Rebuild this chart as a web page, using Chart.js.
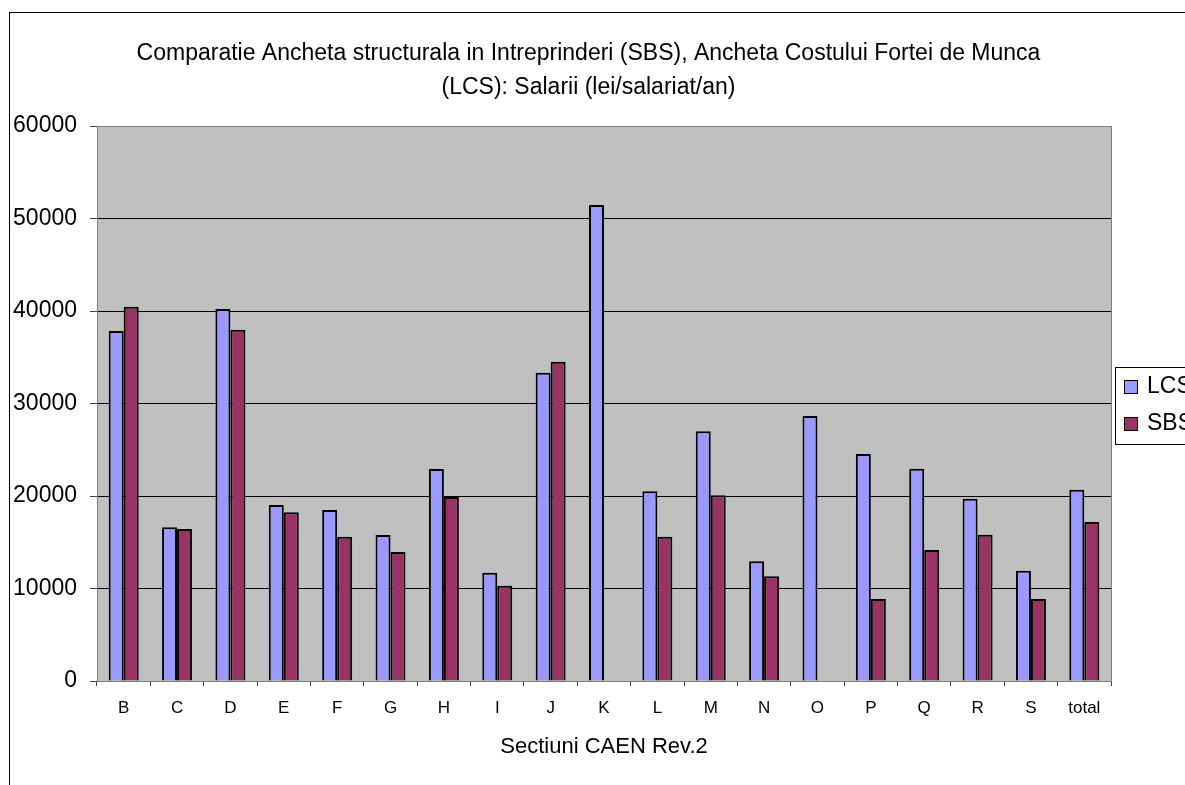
<!DOCTYPE html>
<html>
<head>
<meta charset="utf-8">
<script src="https://cdn.jsdelivr.net/npm/chart.js@4/dist/chart.umd.min.js"></script>
<style>
  html, body { margin: 0; padding: 0; background: #fff; overflow: hidden; }
  canvas { display: block; }
</style>
</head>
<body>
<canvas id="salChart" width="1185" height="785"></canvas>
<script>
// Data
const categories = ['B', 'C', 'D', 'E', 'F', 'G', 'H', 'I', 'J', 'K', 'L', 'M', 'N', 'O', 'P', 'Q', 'R', 'S', 'total'];
const lcsValues = [37840, 16620, 40220, 19030, 18490, 15780, 22920, 11710, 33330, 51460, 20510, 26990, 12940, 28650, 24540, 22950, 19710, 11930, 20680];
const sbsValues = [40470, 16430, 37980, 18240, 15600, 13950, 19890, 10300, 34520, null, 15600, 20080, 11320, null, 8860, 14160, 15820, 8860, 17190];
const titleLines = ['Comparatie Ancheta structurala in Intreprinderi (SBS), Ancheta Costului Fortei de Munca', '(LCS): Salarii (lei/salariat/an)'];
const xTitle = 'Sectiuni CAEN Rev.2';
const yMax = 60000;
const yStep = 10000;

const FONT = '"Liberation Sans", Arial, sans-serif';

// plot background, outer frame, plot border and legend box
const frame = {
    id: 'frame',
    beforeDraw(chart) {
        const { ctx, chartArea: a } = chart;
        ctx.save();
        ctx.fillStyle = '#c0c0c0';
        ctx.fillRect(a.left, a.top, a.right - a.left, a.bottom - a.top);
        ctx.strokeStyle = '#000';
        ctx.lineWidth = 1;
        ctx.strokeRect(9.5, 12.5, chart.width + 20, chart.height + 20);
        ctx.restore();
    },
    beforeDatasetsDraw(chart) {
        const { ctx, chartArea: a } = chart;
        ctx.save();
        ctx.strokeStyle = '#808080';
        ctx.lineWidth = 1;
        ctx.strokeRect(a.left + 0.5, a.top + 0.5, a.right - a.left, a.bottom - a.top);
        ctx.restore();
    },
    afterDraw(chart) {
        const { ctx } = chart;
        ctx.save();
        ctx.strokeStyle = '#000';
        ctx.lineWidth = 1;
        ctx.strokeRect(1115.5, 367.5, 120, 77);
        ctx.font = '23px ' + FONT;
        ctx.textBaseline = 'middle';
        chart.data.datasets.forEach((ds, i) => {
            const y = 387 + i * 37;
            ctx.fillStyle = ds.backgroundColor;
            ctx.fillRect(1124, y - 7, 14, 14);
            ctx.strokeRect(1124.5, y - 6.5, 13, 13);
            ctx.fillStyle = '#000';
            ctx.fillText(ds.label, 1147, y);
        });
        ctx.restore();
    }
};

new Chart(document.getElementById('salChart'), {
    type: 'bar',
    data: {
        labels: categories,
        datasets: [
            {
                label: 'LCS',
                data: lcsValues,
                backgroundColor: '#9999ff',
                borderColor: '#000',
                borderWidth: 2
            },
            {
                label: 'SBS',
                data: sbsValues,
                backgroundColor: '#993366',
                borderColor: '#000',
                borderWidth: 2
            }
        ]
    },
    options: {
        responsive: false,
        animation: false,
        layout: { padding: { left: 0, right: 8, top: 0, bottom: 0 } },
        datasets: {
            bar: { barPercentage: 1, categoryPercentage: 0.562 }
        },
        plugins: {
            legend: { display: false },
            tooltip: { enabled: false },
            title: {
                display: true,
                text: titleLines,
                color: '#000',
                font: { family: FONT, size: 23, weight: 'normal', lineHeight: '34px' },
                padding: { top: 37, bottom: 21 }
            }
        },
        scales: {
            x: {
                afterFit: (scale) => { scale.height = 104; },
                grid: {
                    offset: true,
                    drawOnChartArea: false,
                    drawTicks: true,
                    tickLength: 5,
                    color: '#404040'
                },
                border: { display: false },
                ticks: {
                    color: '#000',
                    padding: 12,
                    font: { family: FONT, size: 17 }
                },
                title: {
                    display: true,
                    text: xTitle,
                    color: '#000',
                    font: { family: FONT, size: 22, lineHeight: 1.2 },
                    padding: { top: 0, bottom: 25 }
                }
            },
            y: {
                min: 0,
                max: yMax,
                afterFit: (scale) => { scale.width = 97; },
                grid: {
                    color: '#000',
                    lineWidth: 1,
                    drawTicks: true,
                    tickLength: 7,
                    tickColor: '#404040'
                },
                border: { display: false },
                ticks: {
                    stepSize: yStep,
                    color: '#000',
                    padding: 13,
                    font: { family: FONT, size: 23 },
                    callback: (v) => String(v)
                }
            },
            // empty right-hand space where the legend sits
            yLegend: {
                type: 'linear',
                position: 'right',
                afterFit: (scale) => { scale.width = 66; },
                grid: { display: false },
                border: { display: false },
                ticks: { display: false }
            }
        }
    },
    plugins: [frame]
});
</script>
</body>
</html>
